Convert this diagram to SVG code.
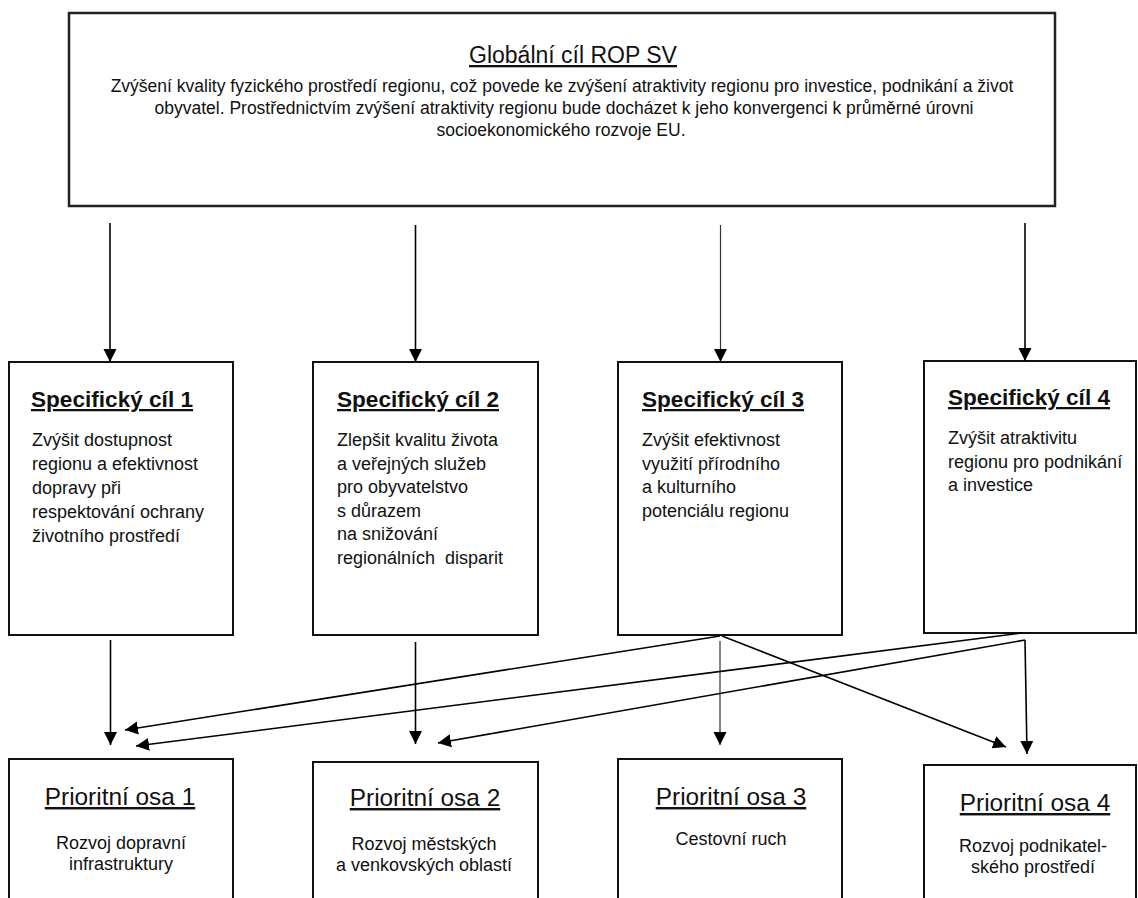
<svg xmlns="http://www.w3.org/2000/svg" width="1138" height="898" viewBox="0 0 1138 898">
<style>
.box{fill:#fff;stroke:#111;stroke-width:2}
.top{fill:#fff;stroke:#222;stroke-width:2.5}
.f{font-family:"Liberation Sans",Arial,Helvetica,sans-serif;fill:#111}
.ttl{font-size:23px;text-decoration:underline;text-anchor:middle}
.sh{font-size:22.6px;font-weight:bold;text-decoration:underline}
.ph{font-size:24.4px;text-decoration:underline;text-anchor:middle}
.tb{font-size:17.5px;text-anchor:middle}
.b{font-size:18px}
.bc{font-size:18px;text-anchor:middle}
.c{stroke:#000;stroke-width:1.6;fill:none;marker-end:url(#ah)}
.thin{stroke:#333;stroke-width:1.2}
</style>
<defs>
<marker id="ah" markerUnits="userSpaceOnUse" markerWidth="14" markerHeight="14" viewBox="0 0 14 14" refX="13" refY="7" orient="auto">
<path d="M0,0.5 L13,7 L0,13.5 z" fill="#000"/>
</marker>
</defs>

<g id="global">
<rect class="top" x="69" y="13" width="986" height="193"/>
<text class="f ttl" x="573" y="63">Globální cíl ROP SV</text>
<text class="f tb" x="562" y="92">Zvýšení kvality fyzického prostředí regionu, což povede ke zvýšení atraktivity regionu pro investice, podnikání a život</text>
<text class="f tb" x="564" y="114">obyvatel. Prostřednictvím zvýšení atraktivity regionu bude docházet k jeho konvergenci k průměrné úrovni</text>
<text class="f tb" x="561" y="136">socioekonomického rozvoje EU.</text>
</g>

<g id="sc1">
<rect class="box" x="9" y="362" width="224" height="273"/>
<text class="f sh" x="31" y="407">Specifický cíl 1</text>
<text class="f b" x="32" y="446">Zvýšit dostupnost</text>
<text class="f b" x="32" y="470">regionu a efektivnost</text>
<text class="f b" x="32" y="494">dopravy při</text>
<text class="f b" x="32" y="518">respektování ochrany</text>
<text class="f b" x="32" y="542">životního prostředí</text>
</g>

<g id="sc2">
<rect class="box" x="313" y="362" width="225" height="273"/>
<text class="f sh" x="337" y="407">Specifický cíl 2</text>
<text class="f b" x="337" y="446">Zlepšit kvalitu života</text>
<text class="f b" x="337" y="469.5">a veřejných služeb</text>
<text class="f b" x="337" y="493">pro obyvatelstvo</text>
<text class="f b" x="337" y="516.5">s důrazem</text>
<text class="f b" x="337" y="540">na snižování</text>
<text class="f b" x="337" y="563.5" xml:space="preserve">regionálních  disparit</text>
</g>

<g id="sc3">
<rect class="box" x="618" y="362" width="224" height="273"/>
<text class="f sh" x="642" y="407">Specifický cíl 3</text>
<text class="f b" x="642" y="446">Zvýšit efektivnost</text>
<text class="f b" x="642" y="469.5">využití přírodního</text>
<text class="f b" x="642" y="493">a kulturního</text>
<text class="f b" x="642" y="516.5">potenciálu regionu</text>
</g>

<g id="sc4">
<rect class="box" x="924" y="361" width="212" height="272"/>
<text class="f sh" x="948" y="405">Specifický cíl 4</text>
<text class="f b" x="948" y="444">Zvýšit atraktivitu</text>
<text class="f b" x="948" y="467.5">regionu pro podnikání</text>
<text class="f b" x="948" y="491">a investice</text>
</g>

<g id="po1">
<rect class="box" x="9" y="759" width="224" height="145"/>
<text class="f ph" x="120" y="805">Prioritní osa 1</text>
<text class="f bc" x="121" y="849">Rozvoj dopravní</text>
<text class="f bc" x="121" y="870">infrastruktury</text>
</g>

<g id="po2">
<rect class="box" x="313" y="762" width="225" height="142"/>
<text class="f ph" x="425" y="806">Prioritní osa 2</text>
<text class="f bc" x="424" y="850">Rozvoj městských</text>
<text class="f bc" x="424" y="871">a venkovských oblastí</text>
</g>

<g id="po3">
<rect class="box" x="618" y="759" width="224" height="145"/>
<text class="f ph" x="731" y="805">Prioritní osa 3</text>
<text class="f bc" x="731" y="845">Cestovní ruch</text>
</g>

<g id="po4">
<rect class="box" x="924" y="765" width="212" height="139"/>
<text class="f ph" x="1035" y="811">Prioritní osa 4</text>
<text class="f bc" x="1033" y="852">Rozvoj podnikatel-</text>
<text class="f bc" x="1033" y="873">ského prostředí</text>
</g>

<g id="connectors">
<path class="c" d="M110,223 V362"/>
<path class="c" d="M415.5,225 V362"/>
<path class="c thin" d="M720.5,225 V362"/>
<path class="c" d="M1025,223 V361"/>
<path class="c" d="M110.5,640 V745"/>
<path class="c" d="M415.5,642 V744"/>
<path class="c thin" d="M720,641 V745"/>
<path class="c" d="M720,636 L125,730"/>
<path class="c" d="M1022,633 L136,746"/>
<path class="c" d="M1025,640 L438,743"/>
<path class="c" d="M722,636 L1006,747"/>
<path class="c" d="M1025,640 L1027,754"/>
</g>
</svg>
